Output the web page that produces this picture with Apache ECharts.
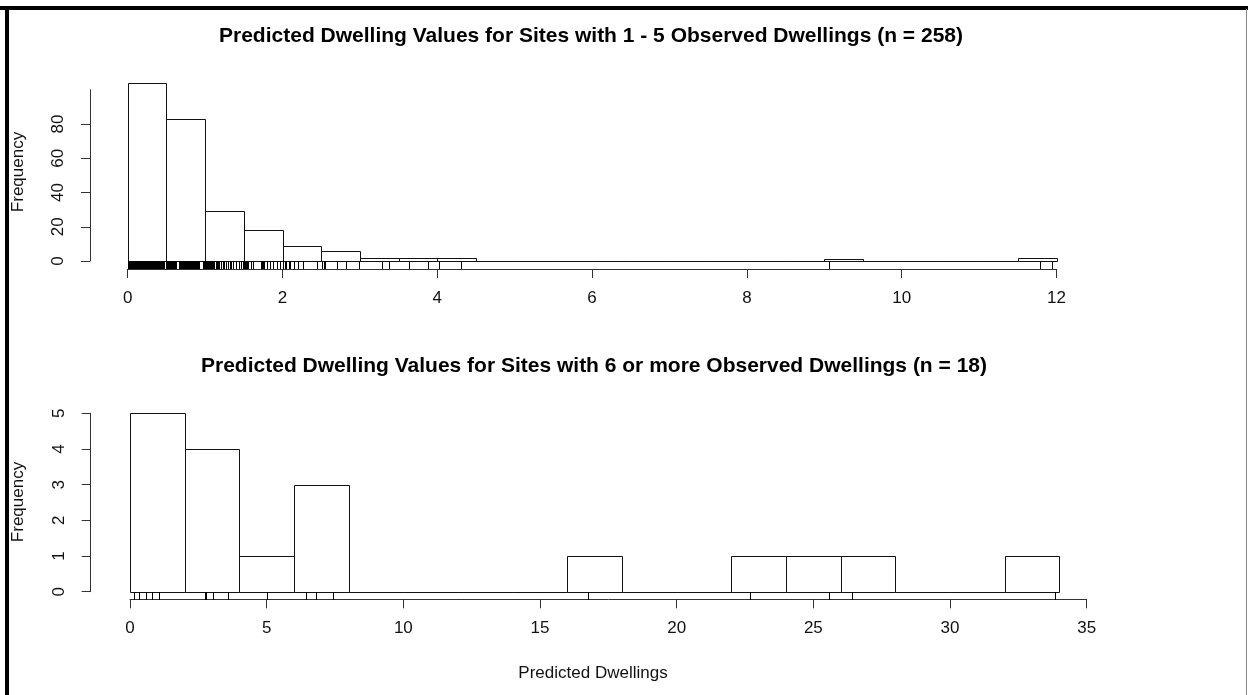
<!DOCTYPE html>
<html>
<head>
<meta charset="utf-8">
<script src="https://cdn.jsdelivr.net/npm/echarts@6/dist/echarts.min.js"></script>
<style>
html,body{margin:0;padding:0;background:#fff;}
#c{width:1248px;height:695px;}
</style>
</head>
<body>
<div id="c"></div>
<script>
// ---------------- data ----------------
const topTitle = 'Predicted Dwelling Values for Sites with 1 - 5 Observed Dwellings (n = 258)';
const bottomTitle = 'Predicted Dwelling Values for Sites with 6 or more Observed Dwellings (n = 18)';
const yTitle = 'Frequency';
const xTitle = 'Predicted Dwellings';

const topBreaks = [0,0.5,1,1.5,2,2.5,3,3.5,4,4.5,5,5.5,6,6.5,7,7.5,8,8.5,9,9.5,10,10.5,11,11.5,12];
const topCounts = [104,83,29,18,9,6,2,2,2,0,0,0,0,0,0,0,0,0,1,0,0,0,0,2];

const bottomBreaks = [0,2,4,6,8,10,12,14,16,18,20,22,24,26,28,30,32,34];
const bottomCounts = [5,4,1,3,0,0,0,0,1,0,0,1,1,1,0,0,1];

// rug values (one per site)
const topRug = [
  0.01,0.02,0.02,0.03,0.04,0.05,0.05,0.06,0.07,0.08,
  0.08,0.09,0.10,0.10,0.11,0.12,0.12,0.13,0.14,0.14,
  0.15,0.16,0.16,0.17,0.18,0.18,0.19,0.19,0.20,0.21,
  0.21,0.22,0.22,0.23,0.23,0.24,0.25,0.25,0.26,0.26,
  0.27,0.27,0.28,0.28,0.29,0.29,0.30,0.30,0.31,0.31,
  0.32,0.32,0.33,0.33,0.34,0.34,0.35,0.35,0.36,0.36,
  0.37,0.37,0.38,0.38,0.38,0.39,0.39,0.40,0.40,0.41,
  0.41,0.42,0.42,0.43,0.43,0.44,0.44,0.45,0.45,0.46,
  0.46,0.47,0.47,0.03,0.06,0.11,0.13,0.17,0.20,0.24,
  0.28,0.31,0.35,0.39,0.42,0.44,0.15,0.19,0.23,0.27,
  0.33,0.36,0.40,0.45,
  0.50,0.51,0.51,0.52,0.52,0.53,0.53,0.54,0.54,0.55,
  0.55,0.56,0.56,0.57,0.57,0.58,0.58,0.59,0.59,0.60,
  0.60,0.61,0.61,0.62,0.62,0.66,0.66,0.67,0.67,0.68,
  0.68,0.69,0.69,0.70,0.70,0.71,0.71,0.72,0.72,0.73,
  0.73,0.74,0.74,0.75,0.75,0.76,0.76,0.77,0.77,0.78,
  0.78,0.79,0.79,0.80,0.80,0.81,0.81,0.82,0.82,0.83,
  0.83,0.84,0.84,0.85,0.85,0.86,0.86,0.87,0.87,0.88,
  0.88,0.89,0.89,0.90,0.90,0.91,0.91,0.92,0.97,0.98,
  0.99,0.53,0.57,
  1.00,1.01,1.02,1.03,1.04,1.05,1.06,1.08,1.09,1.10,
  1.11,1.12,1.14,1.15,1.17,1.18,1.20,1.21,1.23,1.25,
  1.27,1.29,1.32,1.34,1.36,1.40,1.44,1.47,1.49,
  1.50,1.51,1.52,1.53,1.54,1.56,1.59,1.62,1.72,1.73,
  1.74,1.75,1.76,1.80,1.84,1.88,1.93,1.97,
  2.01,2.03,2.05,2.09,2.10,2.15,2.20,2.27,2.44,
  2.51,2.53,2.55,2.71,2.82,2.99,
  3.29,3.38,3.64,3.88,4.02,4.30,
  9.06,11.79,11.94
];
const bottomRug = [0.16,0.34,0.59,0.79,1.06,2.73,2.78,3.05,3.60,5.01,6.43,6.82,7.44,16.75,22.69,25.56,26.42,33.84];

// ---------------- chart ----------------
const FONT = "'Liberation Sans', Arial, Helvetica, sans-serif";
const AXIS_COLOR = '#333';
const chart = echarts.init(document.getElementById('c'));

function histData(breaks, counts) {
  return counts.map((c, i) => [breaks[i], breaks[i + 1], c]);
}
function crisp(v) { return Math.round(v) + 0.5; }

function histSeries(idx, breaks, counts) {
  return {
    type: 'custom', xAxisIndex: idx, yAxisIndex: idx, clip: false, silent: true,
    encode: { x: [0, 1], y: 2 },
    data: histData(breaks, counts),
    renderItem: function (params, api) {
      const a = api.coord([api.value(0), api.value(2)]);
      const b = api.coord([api.value(1), 0]);
      const x0 = crisp(a[0]), x1 = crisp(b[0]), y0 = crisp(a[1]), y1 = crisp(b[1]);
      return {
        type: 'rect',
        shape: { x: x0, y: y0, width: x1 - x0, height: y1 - y0 },
        style: { fill: 'none', stroke: '#111', lineWidth: 1 }
      };
    }
  };
}
function rugSeries(idx, values, len) {
  return {
    type: 'custom', xAxisIndex: idx, yAxisIndex: idx, clip: false, silent: true,
    encode: { x: 0, y: 1 },
    data: values.map(v => [v, 0]),
    renderItem: function (params, api) {
      const p = api.coord([api.value(0), 0]);
      const x = crisp(p[0]);
      return {
        type: 'line',
        shape: { x1: x, y1: Math.round(p[1]), x2: x, y2: Math.round(p[1]) + len },
        style: { stroke: '#000', lineWidth: 1 }
      };
    }
  };
}
function xAx(idx, min, max, interval, offset) {
  return {
    type: 'value', gridIndex: idx, min: min, max: max, interval: interval, offset: offset,
    axisLine: { show: true, onZero: false, lineStyle: { color: AXIS_COLOR, width: 1 } },
    axisTick: { show: true, length: 9, lineStyle: { color: AXIS_COLOR, width: 1 } },
    axisLabel: { fontSize: 17, color: '#111', margin: 21, fontFamily: FONT, showMinLabel: true, showMaxLabel: true },
    splitLine: { show: false }
  };
}
function yAx(idx, min, max, interval, offset, hideMax) {
  return {
    type: 'value', gridIndex: idx, min: min, max: max, interval: interval, offset: offset,
    axisLine: { show: true, onZero: false, lineStyle: { color: AXIS_COLOR, width: 1 } },
    axisTick: { show: true, length: 9, lineStyle: { color: AXIS_COLOR, width: 1 } },
    axisLabel: {
      fontSize: 17, color: '#111', margin: 23, rotate: 90, fontFamily: FONT,
      showMinLabel: true, showMaxLabel: !hideMax
    },
    splitLine: { show: false }
  };
}

const option = {
  animation: false,
  backgroundColor: '#fff',
  grid: [
    { left: 127.7, top: 89.75, width: 928.8, height: 171.25 },
    { left: 130, top: 413.3, width: 956.7, height: 178.4 }
  ],
  xAxis: [ xAx(0, 0, 12, 2, 8), xAx(1, 0, 35, 5, 7.6) ],
  yAxis: [ yAx(0, 0, 100, 20, 37.7, true), yAx(1, 0, 5, 1, 39.3, false) ],
  series: [
    histSeries(0, topBreaks, topCounts),
    rugSeries(0, topRug, 8),
    histSeries(1, bottomBreaks, bottomCounts),
    rugSeries(1, bottomRug, 8)
  ],
  graphic: [
    { type: 'rect', shape: { x: 0, y: 6, width: 1248, height: 4 }, style: { fill: '#000' }, silent: true },
    { type: 'rect', shape: { x: 5, y: 6, width: 4, height: 689 }, style: { fill: '#000' }, silent: true },
    { type: 'rect', shape: { x: 1246, y: 9, width: 1, height: 686 }, style: { fill: '#888' }, silent: true },
    { type: 'text', x: 591, y: 36, silent: true,
      style: { text: topTitle, font: 'bold 21px ' + FONT, fill: '#000', textAlign: 'center', textVerticalAlign: 'middle' } },
    { type: 'text', x: 594, y: 366, silent: true,
      style: { text: bottomTitle, font: 'bold 21px ' + FONT, fill: '#000', textAlign: 'center', textVerticalAlign: 'middle' } },
    { type: 'text', x: 18, y: 172, rotation: Math.PI / 2, silent: true,
      style: { text: yTitle, font: '17px ' + FONT, fill: '#111', textAlign: 'center', textVerticalAlign: 'middle' } },
    { type: 'text', x: 18, y: 502, rotation: Math.PI / 2, silent: true,
      style: { text: yTitle, font: '17px ' + FONT, fill: '#111', textAlign: 'center', textVerticalAlign: 'middle' } },
    { type: 'text', x: 593, y: 673, silent: true,
      style: { text: xTitle, font: '17px ' + FONT, fill: '#111', textAlign: 'center', textVerticalAlign: 'middle' } }
  ]
};
chart.setOption(option);
</script>
</body>
</html>
